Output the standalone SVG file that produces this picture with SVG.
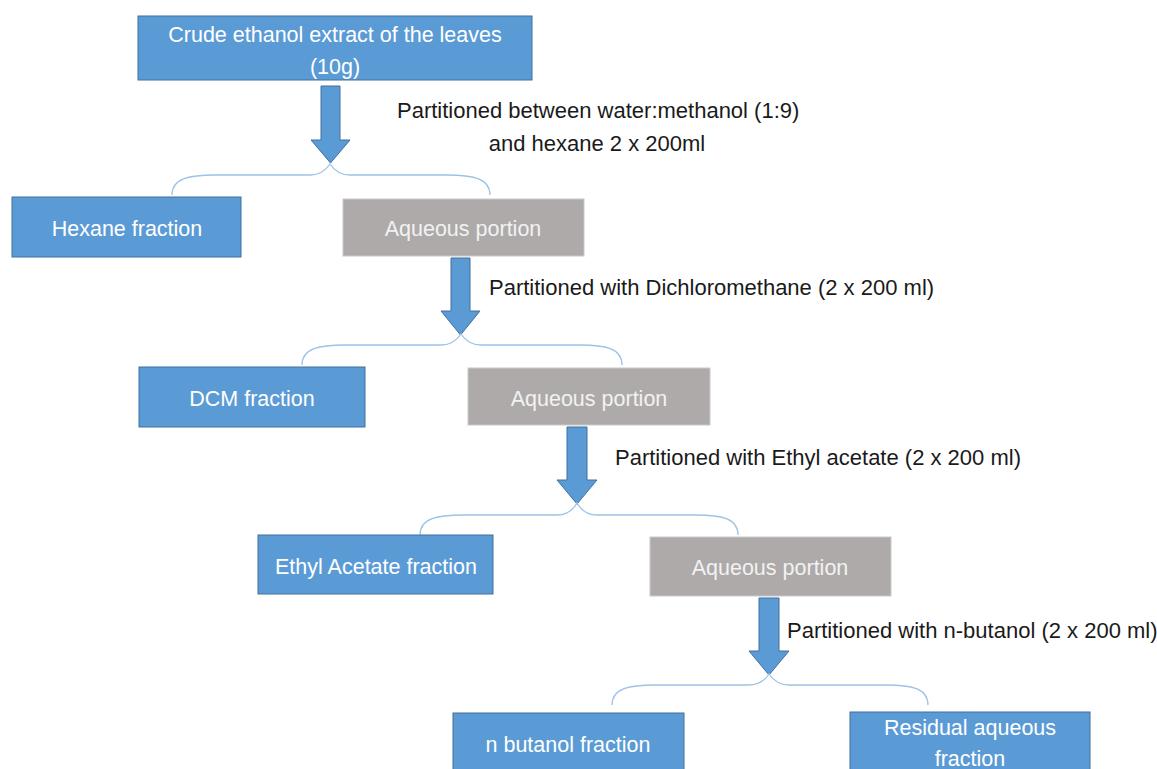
<svg xmlns="http://www.w3.org/2000/svg" width="1157" height="769" viewBox="0 0 1157 769">
<style>
.b{fill:#5B9BD5;stroke:#41719C;stroke-width:1}
.g{fill:#AEAAAA;stroke:#C9C9C9;stroke-width:1}
.t{font-family:"Liberation Sans",Arial,sans-serif;font-size:21.5px;fill:#FFFFFF;text-anchor:middle}
.tg{font-family:"Liberation Sans",Arial,sans-serif;font-size:21.5px;fill:#F2F2F2;text-anchor:middle}
.a{font-family:"Liberation Sans",Arial,sans-serif;font-size:22px;fill:#1a1a1a}
.arr{fill:#5B9BD5;stroke:#41719C;stroke-width:1}
.br{fill:none;stroke:#9DC3E6;stroke-width:1.3}
</style>
<rect width="1157" height="769" fill="#FFFFFF"/>
<g id="connectors">
<path class="arr" d="M321 86 H340 V140 H350 L330.5 163 L311 140 H321 Z"/>
<path class="arr" d="M451 258 H470 V311 H480 L460.5 335 L441 311 H451 Z"/>
<path class="arr" d="M567 427 H587 V480 H597 L577 504 L557 480 H567 Z"/>
<path class="arr" d="M759 598 H779 V651 H789 L769 675 L749 651 H759 Z"/>
<path class="br" d="M172 195 C172 178 190 175 215 175 L310 175 C320 175 326 170 330 164 C334 170 340 175 350 175 L447 175 C472 175 490 178 490 195"/>
<path class="br" d="M302 365 C302 348 320 345 345 345 L441 345 C451 345 457 340 461 334 C465 340 471 345 481 345 L580 345 C605 345 622 348 622 365"/>
<path class="br" d="M420 535 C420 518 438 515 463 515 L557 515 C567 515 573 510 577 503 C581 510 587 515 597 515 L696 515 C721 515 738 518 738 535"/>
<path class="br" d="M612 705 C612 688 630 685 655 685 L749 685 C759 685 765 680 769 674 C773 680 779 685 789 685 L886 685 C911 685 928 688 928 705"/>
</g>
<g id="crude">
<rect class="b" x="138" y="16" width="394" height="64"/>
<text class="t" x="335" y="42">Crude ethanol extract of the leaves</text>
<text class="t" x="335" y="74">(10g)</text>
</g>
<g id="label1">
<text class="a" x="397" y="118">Partitioned between water:methanol (1:9)</text>
<text class="a" x="597" y="151" text-anchor="middle">and hexane 2 x 200ml</text>
</g>
<g id="hexane">
<rect class="b" x="12" y="197" width="229" height="60"/>
<text class="t" x="127" y="236">Hexane fraction</text>
</g>
<g id="aq1">
<rect class="g" x="343" y="199" width="241" height="57"/>
<text class="tg" x="463" y="236">Aqueous portion</text>
</g>
<g id="label2">
<text class="a" x="489" y="295">Partitioned with Dichloromethane (2 x 200 ml)</text>
</g>
<g id="dcm">
<rect class="b" x="139" y="367" width="226" height="60"/>
<text class="t" x="252" y="406">DCM fraction</text>
</g>
<g id="aq2">
<rect class="g" x="468" y="368" width="242" height="57"/>
<text class="tg" x="589" y="406">Aqueous portion</text>
</g>
<g id="label3">
<text class="a" x="615" y="465">Partitioned with Ethyl acetate (2 x 200 ml)</text>
</g>
<g id="ethyl">
<rect class="b" x="258" y="535" width="235" height="59"/>
<text class="t" x="376" y="574">Ethyl Acetate fraction</text>
</g>
<g id="aq3">
<rect class="g" x="650" y="537" width="241" height="59"/>
<text class="tg" x="770" y="575">Aqueous portion</text>
</g>
<g id="label4">
<text class="a" x="787" y="638">Partitioned with n-butanol (2 x 200 ml)</text>
</g>
<g id="butanol">
<rect class="b" x="453" y="713" width="231" height="60"/>
<text class="t" x="568" y="752">n butanol fraction</text>
</g>
<g id="residual">
<rect class="b" x="850" y="712" width="240" height="60"/>
<text class="t" x="970" y="735">Residual aqueous</text>
<text class="t" x="970" y="766">fraction</text>
</g>
</svg>
